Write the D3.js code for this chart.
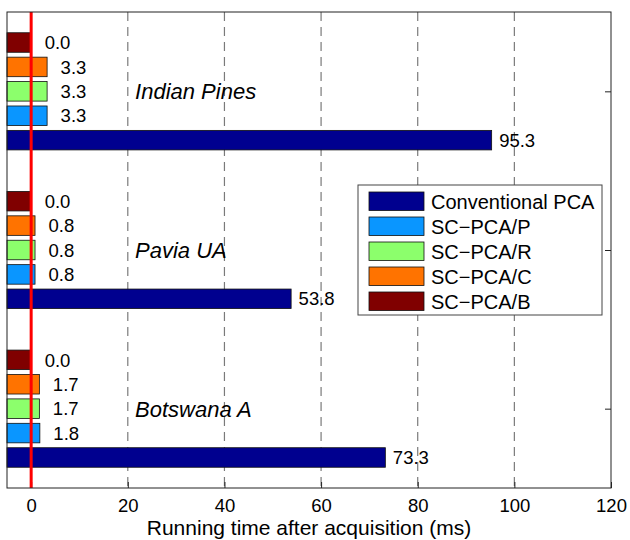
<!DOCTYPE html>
<html>
<head>
<meta charset="utf-8">
<script src="https://cdn.jsdelivr.net/npm/d3@7"></script>
<style>
  body { margin: 0; background: #fff; }
  text { font-family: "Liberation Sans", Arial, sans-serif; fill: #000; }
</style>
</head>
<body>
<div id="chart"></div>
<script>
// data
var categories = ["Indian Pines", "Pavia UA", "Botswana A"];
var seriesNames = ["Conventional PCA", "SC\u2212PCA/P", "SC\u2212PCA/R", "SC\u2212PCA/C", "SC\u2212PCA/B"];
var conventional = [95.3, 53.8, 73.3];
var scP = [3.3, 0.8, 1.8];
var scR = [3.3, 0.8, 1.7];
var scC = [3.3, 0.8, 1.7];
var scB = [0.0, 0.0, 0.0];
var xTicks = [0, 20, 40, 60, 80, 100, 120];
var colors = ["#00008f", "#0a96ff", "#8cff6c", "#ff7300", "#800000"];

var seriesValues = [conventional, scP, scR, scC, scB];

var width = 630, height = 540;
// plot box (note: "top" is taken by window.top, so use other names)
var pLeft = 7, pRight = 611, pTop = 12, pBottom = 488;

var svg = d3.select("#chart")
    .append("svg")
    .attr("width", width)
    .attr("height", height);

var x = d3.scaleLinear().domain([-5, 120]).range([pLeft, pRight]);
var y = d3.scaleLinear().domain([0.5, 3.5]).range([pTop, pBottom]);

// bars flat list
var bars = [];
categories.forEach(function(c, gi) {
    seriesNames.forEach(function(s, si) {
        bars.push({group: gi, series: si, value: seriesValues[si][gi]});
    });
});

// inner band: top-to-bottom order is B, C, R, P, Conventional
var innerOrder = [4, 3, 2, 1, 0];
var halfGroup = 0.3846;

function band(gi) {
    return d3.scaleBand()
        .domain(innerOrder)
        .range([y(gi + 1 - halfGroup), y(gi + 1 + halfGroup)])
        .paddingInner(0.2)
        .paddingOuter(0.1);
}

// dashed grid
svg.selectAll(".grid")
    .data(xTicks.filter(function(t) { return t > 0 && t < 120; }))
    .enter()
    .append("line")
    .attr("x1", function(d) { return x(d); })
    .attr("x2", function(d) { return x(d); })
    .attr("y1", pTop)
    .attr("y2", pBottom)
    .attr("stroke", "#7a7a7a")
    .attr("stroke-width", 1.2)
    .attr("stroke-dasharray", "9,6");

// x axis (bottom) with inward ticks
var xAxis = d3.axisBottom(x).tickValues(xTicks).tickSize(-6).tickPadding(11);
var gx = svg.append("g")
    .attr("transform", "translate(0," + pBottom + ")")
    .call(xAxis);
gx.select(".domain").remove();
gx.selectAll("line").attr("stroke", "#222");
gx.selectAll("text").style("font-size", "18.5px").attr("dy", "0.71em").attr("fill", "#000");

// y ticks on both sides (inward)
var yAxisL = d3.axisLeft(y).tickValues([1, 2, 3]).tickSize(-6).tickFormat("");
var yAxisR = d3.axisRight(y).tickValues([1, 2, 3]).tickSize(-6).tickFormat("");
var gyl = svg.append("g").attr("transform", "translate(" + pLeft + ",0)").call(yAxisL);
var gyr = svg.append("g").attr("transform", "translate(" + pRight + ",0)").call(yAxisR);
gyl.select(".domain").remove();
gyr.select(".domain").remove();
gyl.selectAll("line").attr("stroke", "#222");
gyr.selectAll("line").attr("stroke", "#222");

// bars
svg.selectAll(".bar")
    .data(bars)
    .enter()
    .append("rect")
    .attr("class", "bar")
    .attr("x", x(-5))
    .attr("y", function(d) { return band(d.group)(d.series); })
    .attr("width", function(d) { return x(d.value) - x(-5); })
    .attr("height", function(d) { return band(d.group).bandwidth(); })
    .attr("fill", function(d) { return colors[d.series]; })
    .attr("stroke", "#111")
    .attr("stroke-width", 0.8);

// value labels
svg.selectAll(".val")
    .data(bars)
    .enter()
    .append("text")
    .attr("class", "val")
    .attr("x", function(d) { return x(d.value) + (d.value < 10 ? 13.5 : 7.5); })
    .attr("y", function(d) { var b = band(d.group); return b(d.series) + b.bandwidth() / 2; })
    .attr("dy", "0.36em")
    .style("font-size", "18.5px")
    .text(function(d) { return d3.format(".1f")(d.value); });

// group labels
svg.selectAll(".glabel")
    .data(categories)
    .enter()
    .append("text")
    .attr("x", x(21.5))
    .attr("y", function(d, i) { return y(i + 1); })
    .attr("dy", "0.36em")
    .style("font-size", "22px")
    .style("font-style", "italic")
    .text(function(d) { return d; });

// red line at zero
svg.append("line")
    .attr("x1", x(0)).attr("x2", x(0))
    .attr("y1", pTop).attr("y2", pBottom)
    .attr("stroke", "#ff0000")
    .attr("stroke-width", 3);

// axes box
svg.append("rect")
    .attr("x", pLeft).attr("y", pTop)
    .attr("width", pRight - pLeft).attr("height", pBottom - pTop)
    .attr("fill", "none")
    .attr("stroke", "#222")
    .attr("stroke-width", 1);

// x label
svg.append("text")
    .attr("x", (pLeft + pRight) / 2)
    .attr("y", 535)
    .attr("text-anchor", "middle")
    .style("font-size", "21px")
    .text("Running time after acquisition (ms)");

// legend
var lg = svg.append("g").attr("transform", "translate(358,185)");
lg.append("rect")
    .attr("width", 244).attr("height", 130)
    .attr("fill", "#fff")
    .attr("stroke", "#444")
    .attr("stroke-width", 1);
var items = lg.selectAll(".item")
    .data(seriesNames)
    .enter()
    .append("g")
    .attr("transform", function(d, i) { return "translate(11," + (7 + i * 25) + ")"; });
items.append("rect")
    .attr("width", 55).attr("height", 18.5)
    .attr("fill", function(d, i) { return colors[i]; })
    .attr("stroke", "#111")
    .attr("stroke-width", 0.8);
items.append("text")
    .attr("x", 62)
    .attr("y", 9.5)
    .attr("dy", "0.36em")
    .style("font-size", "20px")
    .text(function(d) { return d; });
</script>
</body>
</html>
